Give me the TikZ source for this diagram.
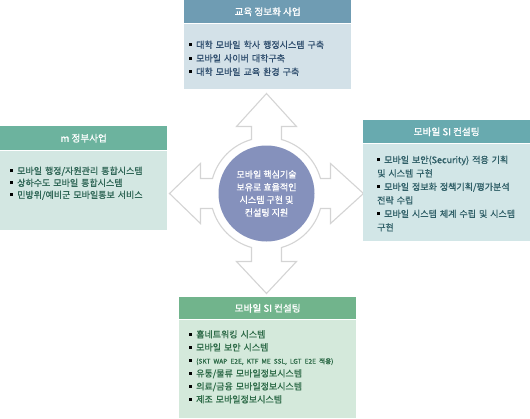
\documentclass[tikz,border=0pt]{standalone}
\usepackage{fontspec}
\usepackage{xcolor}
\usepackage{tikz}
\usetikzlibrary{positioning}
\newfontfamily\kr[FakeBold=0.9]{Noto Sans CJK KR}

\definecolor{eduHeadC}{HTML}{6F9CB3}
\definecolor{eduBodyC}{HTML}{D3E1E8}
\definecolor{eduTextC}{HTML}{2F4E6E}
\definecolor{govHeadC}{HTML}{6CB39E}
\definecolor{govBodyC}{HTML}{D3E7E2}
\definecolor{govTextC}{HTML}{2F6656}
\definecolor{conHeadC}{HTML}{68AAAF}
\definecolor{conBodyC}{HTML}{D2E6E7}
\definecolor{conTextC}{HTML}{2E5E66}
\definecolor{sysHeadC}{HTML}{71B48C}
\definecolor{sysBodyC}{HTML}{D4E9DB}
\definecolor{sysTextC}{HTML}{2E6B48}
\definecolor{coreC}{HTML}{8591BC}
\definecolor{crossC}{HTML}{D4D4D4}

% bullet item with hanging indent
\newcommand{\bitem}[1]{\par\noindent\hangindent=7pt\hangafter=1\makebox[7pt][l]{\raisebox{2pt}{\color{black}\rule{3pt}{3pt}}}#1}

\begin{document}
\begin{tikzpicture}[
    x=1pt, y=-1pt,
    head/.style={rectangle, anchor=north west, inner sep=0pt, text=white, font=\kr\fontsize{9.6pt}{12pt}\selectfont},
    body/.style={rectangle, anchor=north west, inner sep=0pt},
    items/.style={anchor=north west, inner sep=0pt, text width=#1, font=\kr\fontsize{9pt}{13.5pt}\selectfont},
    core/.style={circle, fill=coreC, minimum size=96pt, inner sep=0pt, align=center, text=white, font=\kr\fontsize{9pt}{12.7pt}\selectfont}
]
\useasboundingbox (0,0) rectangle (530,418);

% four-way arrow behind the centre
\draw[crossC, line width=1.1pt, fill=white, line join=miter, shift={(266.5,193.5)}]
    (54,15) -- (64,15) -- (64,30) -- (97,0) -- (64,-30) -- (64,-15) -- (54,-15)
    arc[start angle=-15.52, end angle=-74.48, radius=56]
    -- (15,-67) -- (30,-67) -- (0,-100) -- (-30,-67) -- (-15,-67) -- (-15,-54)
    arc[start angle=-105.52, end angle=-164.48, radius=56]
    -- (-66,-15) -- (-66,-30) -- (-97,0) -- (-66,30) -- (-66,15) -- (-54,15)
    arc[start angle=164.48, end angle=105.52, radius=56]
    -- (-15,68) -- (-30,68) -- (0,100) -- (30,68) -- (15,68) -- (15,54)
    arc[start angle=74.48, end angle=15.52, radius=56] -- cycle;

\node[core] (core) at (266.5,193.5) {모바일 핵심기술\\보유로 효율적인\\시스템 구현 및\\컨설팅 지원};

% top box
\node[body, fill=eduBodyC, minimum width=167pt, minimum height=65pt] (eduBody) at (184,24) {};
\node[head, fill=eduHeadC, minimum width=167pt, minimum height=23pt] (eduHead) at (184,0) {교육 정보화 사업};
\node[items=150pt, text=eduTextC] (eduList) at (189,34.5) {\raggedright
    \bitem{대학 모바일 학사 행정시스템 구축}
    \bitem{모바일 사이버 대학구축}
    \bitem{대학 모바일 교육 환경 구축}};

% left box
\node[body, fill=govBodyC, minimum width=167pt, minimum height=79pt] (govBody) at (0,151) {};
\node[head, fill=govHeadC, minimum width=167pt, minimum height=24pt] (govHead) at (0,126) {m 정부사업};
\node[items=155pt, text=govTextC, font=\kr\fontsize{9pt}{12pt}\selectfont] (govList) at (10,162) {\raggedright
    \bitem{모바일 행정/자원관리 통합시스템}
    \bitem{상하수도 모바일 통합시스템}
    \bitem{민방위/예비군 모바일통보 서비스}};

% right box
\node[body, fill=conBodyC, minimum width=167pt, minimum height=97pt] (conBody) at (363,144) {};
\node[head, fill=conHeadC, minimum width=167pt, minimum height=23pt] (conHead) at (363,120) {모바일 SI 컨설팅};
\node[items=150pt, text=conTextC] (conList) at (377,149.5) {\raggedright
    \bitem{모바일 보안(Security) 적용 기획\\및 시스템 구현}
    \bitem{모바일 정보화 정책기획/평가분석\\전략 수립}
    \bitem{모바일 시스템 체계 수립 및 시스템\\구현}};

% bottom box
\node[body, fill=sysBodyC, minimum width=177pt, minimum height=98pt] (sysBody) at (179,320) {};
\node[head, fill=sysHeadC, minimum width=177pt, minimum height=22pt] (sysHead) at (179,297) {모바일 SI 컨설팅};
\node[items=165pt, text=sysTextC, font=\kr\fontsize{9pt}{13pt}\selectfont] (sysList) at (189,324.5) {\raggedright
    \bitem{홈네트워킹 시스템}
    \bitem{모바일 보안 시스템}
    \bitem{{\fontsize{6.6pt}{11pt}\selectfont (SKT WAP E2E, KTF ME SSL, LGT E2E 적용)}}
    \bitem{유통/물류 모바일정보시스템}
    \bitem{의료/금융 모바일정보시스템}
    \bitem{제조 모바일정보시스템}};
\end{tikzpicture}
\end{document}
